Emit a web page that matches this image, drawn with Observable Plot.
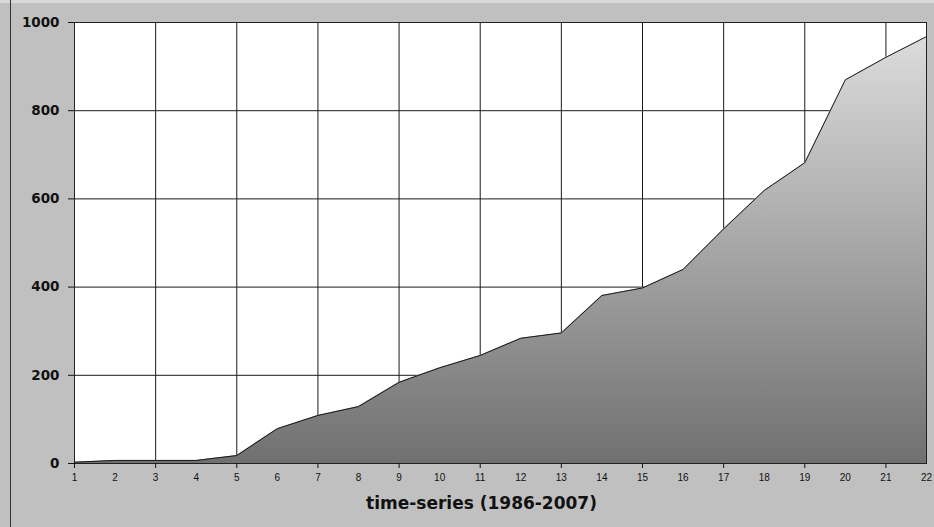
<!DOCTYPE html>
<html>
<head>
<meta charset="utf-8">
<script src="https://cdn.jsdelivr.net/npm/d3@7"></script>
<script src="https://cdn.jsdelivr.net/npm/@observablehq/plot@0.6"></script>
<style>
  html, body { margin: 0; padding: 0; background: #c0c0c0; }
  #wrap { position: relative; width: 934px; height: 527px; overflow: hidden; }
  #edge { position: absolute; left: 10px; top: 0; width: 1px; height: 527px; background: #333; }
  #topband { position: absolute; left: 0; top: 0; width: 934px; height: 3px; background: #d8d8d8; }
</style>
</head>
<body>
<div id="wrap"><div id="topband"></div><div id="edge"></div></div>
<script>
const periods = [1,2,3,4,5,6,7,8,9,10,11,12,13,14,15,16,17,18,19,20,21,22];
const counts  = [3,7,7,7,18,79,109,129,184,217,245,284,296,381,398,440,532,619,682,870,921,968];
const yTicks = [0,200,400,600,800,1000];
const yGrid = [200,400,600,800,1000];
const xGrid = [3,5,7,9,11,13,15,17,19,21];
const xTickMarks = [1,3,5,7,9,11,13,15,17,19,21];
const xLabel = "time-series (1986-2007)";

const data = periods.map((p, i) => ({period: p, value: counts[i]}));

const gradientDefs = () => {
  const defs = d3.create("svg:defs");
  const g = defs.append("linearGradient")
    .attr("id", "areaGrad")
    .attr("x1", 0).attr("y1", 0).attr("x2", 0).attr("y2", 1);
  g.append("stop").attr("offset", "0%").attr("stop-color", "#dcdcdc");
  g.append("stop").attr("offset", "100%").attr("stop-color", "#707070");
  return defs.node();
};

const chart = Plot.plot({
  width: 934,
  height: 527,
  marginLeft: 74,
  marginRight: 8,
  marginTop: 22,
  marginBottom: 64,
  style: {background: "transparent", fontFamily: "'Liberation Sans', Arial, sans-serif", color: "#111"},
  x: {domain: [1, 22]},
  y: {domain: [0, 1000]},
  marks: [
    gradientDefs,
    Plot.frame({fill: "white", stroke: null}),
    Plot.ruleY(yGrid, {stroke: "#1a1a1a", strokeWidth: 1}),
    Plot.ruleX(xGrid, {stroke: "#1a1a1a", strokeWidth: 1}),
    Plot.areaY(data, {x: "period", y: "value", fill: "url(#areaGrad)"}),
    Plot.lineY(data, {x: "period", y: "value", stroke: "#1a1a1a", strokeWidth: 1}),
    Plot.frame({stroke: "#222", strokeWidth: 1}),
    Plot.axisY({ticks: yTicks, tickSize: 6, tickPadding: 9, label: null,
      tickFormat: d => String(d), stroke: "#111", strokeOpacity: 1,
      fontFamily: "'DejaVu Sans', Verdana, sans-serif", fontWeight: "bold", fontSize: 13.5, fill: "#111"}),
    Plot.axisX({ticks: xTickMarks, tickSize: 5, text: null, label: null, stroke: "#111", strokeOpacity: 1}),
    Plot.axisX({ticks: periods, tickSize: 0, tickPadding: 10, label: null,
      fontSize: 10, fill: "#111", tickFormat: d => String(d)}),
    Plot.text([xLabel], {frameAnchor: "bottom", dy: 45, dx: -19, text: d => d,
      fontFamily: "'DejaVu Sans', Verdana, sans-serif", fontWeight: "bold", fontSize: 17, fill: "#111"})
  ]
});
chart.style.position = "absolute";
chart.style.left = "0";
chart.style.top = "0";
document.getElementById("wrap").appendChild(chart);
</script>
</body>
</html>
